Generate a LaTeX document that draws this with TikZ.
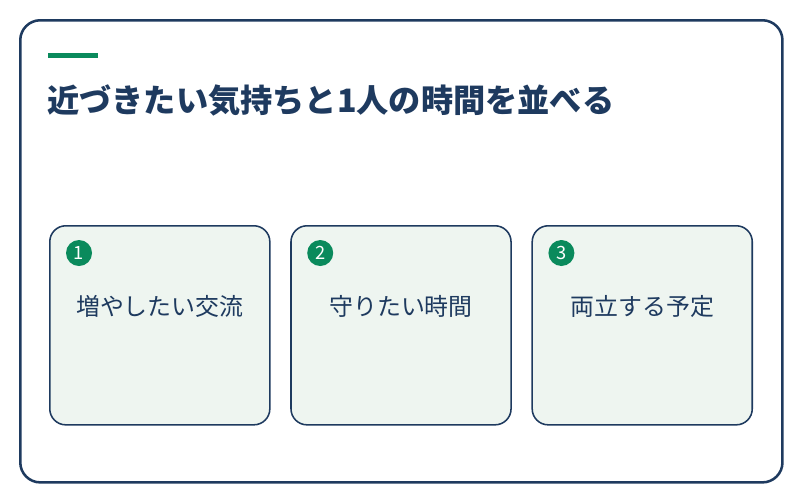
\documentclass[tikz,border=0pt]{standalone}
\usepackage{fontspec}
\newfontfamily\jp{Noto Sans CJK JP}
\usepackage{xcolor}
\usetikzlibrary{positioning}
\definecolor{navy}{HTML}{1E3A5F}
\definecolor{leaf}{HTML}{0A8A5C}
\definecolor{mint}{HTML}{EEF5F0}

\begin{document}
\begin{tikzpicture}[x=0.025cm,y=-0.025cm,node distance=0.49cm,
		card node/.style={rectangle,rounded corners=0.4cm,draw=navy,fill=mint,line width=1.1pt,
			minimum width=5.5cm,minimum height=4.975cm,inner sep=0pt},
		badge node/.style={circle,fill=leaf,text=white,minimum size=0.65cm,inner sep=0pt,
			font=\jp\fontsize{13}{13}\selectfont},
		label node/.style={text=navy,inner sep=0pt,font=\jp\fontsize{17}{17}\selectfont}]
	\useasboundingbox (0,0) rectangle (800,500);
	% Frame
	  \node[draw=navy,fill=white,line width=1.8pt,rounded corners=0.5cm,minimum width=19.05cm,
	        minimum height=11.55cm,inner sep=0pt,anchor=north west] (frame) at (19,19) {};
	  \fill[leaf] (48,53) rectangle (98,58);
	  \node[anchor=west,text=navy,inner sep=0pt,font=\jp\bfseries\fontsize{22.9}{23}\selectfont]
	        (title) at (47,100) {近づきたい気持ちと1人の時間を並べる};
	% Cards
	  \node[card node,anchor=north west] (c1) at (49,225) {};
	  \node[card node] (c2) [right=of c1] {};
	  \node[card node] (c3) [right=of c2] {};
	% Badges and labels
	  \node[badge node] (b1) at ([xshift=0.75cm,yshift=-0.7cm]c1.north west) {1};
	  \node[badge node] (b2) at ([xshift=0.75cm,yshift=-0.7cm]c2.north west) {2};
	  \node[badge node] (b3) at ([xshift=0.75cm,yshift=-0.7cm]c3.north west) {3};
	  \node[label node] (t1) at ([yshift=-2.03cm]c1.north) {増やしたい交流};
	  \node[label node] (t2) at ([yshift=-2.03cm]c2.north) {守りたい時間};
	  \node[label node] (t3) at ([yshift=-2.03cm]c3.north) {両立する予定};
\end{tikzpicture}
\end{document}
